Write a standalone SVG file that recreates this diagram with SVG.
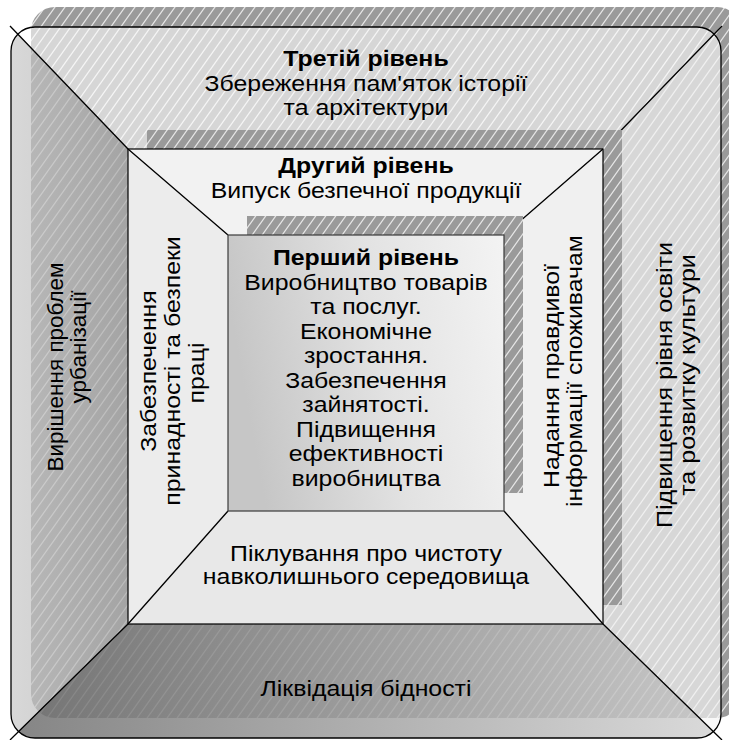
<svg xmlns="http://www.w3.org/2000/svg" width="729" height="740" viewBox="0 0 729 740">
  <defs>
    <!-- diagonal white hatching used by the drop shadows -->
    <pattern id="hatch" patternUnits="userSpaceOnUse" width="10" height="14">
      <rect width="10" height="14" fill="#9a9a9a"/>
      <path d="M-11,15.4 L1,-1.4 M-1,15.4 L11,-1.4 M9,15.4 L21,-1.4" stroke="#ffffff" stroke-opacity="0.75" stroke-width="1.3"/>
    </pattern>
    <clipPath id="outerClip">
      <rect x="11" y="27" width="710" height="711" rx="24" ry="24"/>
    </clipPath>
    <linearGradient id="bottomFace" gradientUnits="userSpaceOnUse" x1="11" y1="0" x2="721" y2="0">
      <stop offset="0" stop-color="#6a6a6a"/>
      <stop offset="1" stop-color="#d2d2d2"/>
    </linearGradient>
    <linearGradient id="leftFace" gradientUnits="userSpaceOnUse" x1="11" y1="0" x2="128" y2="0">
      <stop offset="0" stop-color="#c8c8c8"/>
      <stop offset="1" stop-color="#a8a8a8"/>
    </linearGradient>
    <linearGradient id="coreFill" gradientUnits="userSpaceOnUse" x1="228" y1="300" x2="504" y2="250">
      <stop offset="0" stop-color="#c6c6c6"/>
      <stop offset="0.5" stop-color="#e2e2e2"/>
      <stop offset="1" stop-color="#f3f3f3"/>
    </linearGradient>
    <style>
      .t { font-family: "Liberation Sans", Arial, sans-serif; font-size: 22px; fill: #000; text-anchor: middle; }
      .s { font-size: 22.5px; }
      .b { font-weight: bold; }
      .edge { stroke: #000; stroke-width: 1.3; fill: none; }
      .shadow { fill: url(#hatch); }
    </style>
  </defs>

  <rect width="729" height="740" fill="#ffffff"/>

  <!-- third level: outer rounded bevel -->
  <g id="level3">
    <rect class="shadow" x="31" y="7" width="710" height="711" rx="24" ry="24"/>
    <g clip-path="url(#outerClip)">
      <polygon points="11,27 721,27 603,149 128,149" fill="#ffffff" fill-opacity="0.6"/>
      <polygon points="721,27 721,738 603,624 603,149" fill="#f4f4f4" fill-opacity="0.68"/>
      <polygon points="11,738 721,738 603,624 128,624" fill="url(#bottomFace)" fill-opacity="0.82"/>
      <polygon points="11,27 128,149 128,624 11,738" fill="url(#leftFace)" fill-opacity="0.7"/>
    </g>
    <rect class="edge" x="11" y="27" width="710" height="711" rx="24" ry="24"/>
    <path class="edge" d="M10,26 L128,149 M722,26 L603,149 M603,624 L722,740 M128,624 L10,740"/>
    <text class="t b" transform="translate(366,66) scale(1.13,1)">Третій рівень</text>
    <text class="t" transform="translate(366,91) scale(1.13,1)">Збереження пам'яток історії</text>
    <text class="t" transform="translate(366,115) scale(1.13,1)">та архітектури</text>
    <text class="t s" transform="translate(63,367) rotate(-90)">Вирішення проблем</text>
    <text class="t s" transform="translate(86,347) rotate(-90)">урбанізації</text>
    <text class="t" transform="translate(672,385) rotate(-90) scale(1.14,1)">Підвищення рівня освіти</text>
    <text class="t" transform="translate(695,375) rotate(-90) scale(1.14,1)">та розвитку культури</text>
    <text class="t" transform="translate(366,696) scale(1.13,1)">Ліквідація бідності</text>
  </g>

  <!-- second level: middle bevel -->
  <g id="level2">
    <rect class="shadow" x="147" y="130" width="475" height="475"/>
    <polygon points="128,149 603,149 504,235 228,235" fill="#f2f2f2"/>
    <polygon points="603,149 603,624 504,511 504,235" fill="#f0f0f0"/>
    <polygon points="128,624 603,624 504,511 228,511" fill="#e8e8e8"/>
    <polygon points="128,149 228,235 228,511 128,624" fill="#ececec"/>
    <rect x="128" y="149" width="475" height="475" fill="none" stroke="#000" stroke-width="1.2"/>
    <path class="edge" d="M128,149 L228,235 M603,149 L504,235 M603,624 L504,511 M128,624 L228,511"/>
    <text class="t b" transform="translate(366,173) scale(1.13,1)">Другий рівень</text>
    <text class="t" transform="translate(366,197.5) scale(1.13,1)">Випуск безпечної продукції</text>
    <text class="t" transform="translate(156,371) rotate(-90) scale(1.13,1)">Забезпечення</text>
    <text class="t" transform="translate(180,371) rotate(-90) scale(1.13,1)">принадності та безпеки</text>
    <text class="t" transform="translate(204,373) rotate(-90) scale(1.13,1)">праці</text>
    <text class="t" transform="translate(559,376) rotate(-90) scale(1.13,1)">Надання правдивої</text>
    <text class="t" transform="translate(582,371) rotate(-90) scale(1.13,1)">інформації споживачам</text>
    <text class="t" transform="translate(366,561) scale(1.13,1)">Піклування про чистоту</text>
    <text class="t" transform="translate(366,584) scale(1.13,1)">навколишнього середовища</text>
  </g>

  <!-- first level: central box -->
  <g id="level1">
    <rect class="shadow" x="247" y="216" width="276" height="277"/>
    <rect x="228" y="235" width="276" height="276" fill="url(#coreFill)" stroke="#3a3a3a" stroke-width="1.2"/>
    <text class="t b" transform="translate(366,265) scale(1.13,1)">Перший рівень</text>
    <text class="t" transform="translate(366,289.5) scale(1.13,1)">Виробництво товарів</text>
    <text class="t" transform="translate(366,314) scale(1.13,1)">та послуг.</text>
    <text class="t" transform="translate(366,338.5) scale(1.13,1)">Економічне</text>
    <text class="t" transform="translate(366,363) scale(1.13,1)">зростання.</text>
    <text class="t" transform="translate(366,387.5) scale(1.13,1)">Забезпечення</text>
    <text class="t" transform="translate(366,412) scale(1.13,1)">зайнятості.</text>
    <text class="t" transform="translate(366,436.5) scale(1.13,1)">Підвищення</text>
    <text class="t" transform="translate(366,461) scale(1.13,1)">ефективності</text>
    <text class="t" transform="translate(366,485.5) scale(1.13,1)">виробництва</text>
  </g>
</svg>
